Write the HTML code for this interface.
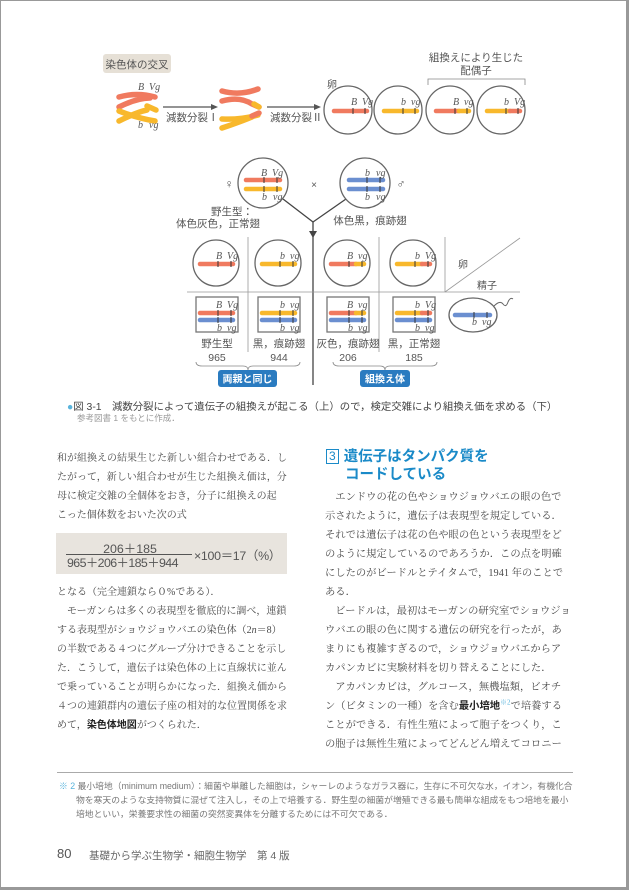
<!DOCTYPE html>
<html><head><meta charset="utf-8"><style>
*{margin:0;padding:0;box-sizing:border-box}
body{width:629px;height:890px;background:#fff;position:relative;overflow:hidden;font-family:"Liberation Sans","Noto Sans CJK JP",sans-serif;color:#555}
.frame{position:absolute;left:0;top:0;width:629px;height:890px;border:1px solid #999;border-right:3px solid #999;border-bottom:3px solid #999}
.t{position:absolute;white-space:nowrap}
.body{font-family:"Liberation Serif","Noto Serif CJK SC",serif;color:#4a4a4a;line-height:19px}
.body div{white-space:nowrap}
b{color:#222;font-family:"Liberation Sans","Noto Sans CJK JP",sans-serif;font-weight:bold}
</style></head><body>
<div class="frame"></div>
<svg width="629" height="400" style="position:absolute;left:0;top:0" font-family="Liberation Sans,Noto Sans CJK JP,sans-serif">
<rect x="103" y="54" width="68" height="19" rx="3" fill="#e6e0d6"/>
<text x="137" y="68" font-size="10.5" fill="#555" text-anchor="middle">染色体の交叉</text>
<g stroke-linecap="round" fill="none" stroke-width="5.5">
<path d="M119 97 Q137 92 155 97" stroke="#f07a5f"/>
<path d="M119 107 Q137 98 150 98" stroke="#f07a5f"/>
<path d="M119 111 Q137 118 155 121" stroke="#f8b82c"/>
<path d="M119 121 Q137 112 147 110" stroke="#f8b82c"/>
<path d="M147 106 L156 110" stroke="#f8b82c"/>
<path d="M222 91 Q240 96 258 89" stroke="#f07a5f"/>
<path d="M222 101 Q240 96 252 104 L259 107" stroke="#f07a5f"/>
<path d="M254 104 L259 107" stroke="#f8b82c"/>
<path d="M222 119 Q240 120 258 115" stroke="#f8b82c"/>
<path d="M222 128 Q240 122 252 117" stroke="#f8b82c"/>
<path d="M252 116 L259 113" stroke="#f07a5f"/>
</g>
<g font-family="Liberation Serif,serif" font-style="italic" font-size="10" fill="#555">
<text x="138" y="90">B</text><text x="149" y="90">Vg</text>
<text x="138" y="128">b</text><text x="149" y="128">vg</text>
</g>
<g stroke="#555" stroke-width="1.3"><line x1="163" y1="107" x2="213" y2="107"/><line x1="267" y1="107" x2="316" y2="107"/></g>
<polygon points="218,107 211,104 211,110" fill="#555"/><polygon points="321,107 314,104 314,110" fill="#555"/>
<text x="166" y="121" font-size="10.5" fill="#555">減数分裂Ⅰ</text>
<text x="270" y="121" font-size="10.5" fill="#555">減数分裂Ⅱ</text>
<text x="327" y="88" font-size="10" fill="#555">卵</text>
<text x="476" y="61" font-size="10.5" fill="#555" text-anchor="middle">組換えにより生じた</text>
<text x="476" y="74" font-size="10.5" fill="#555" text-anchor="middle">配偶子</text>
<path d="M428 85 V79 H525 V85" fill="none" stroke="#888" stroke-width="0.8"/>
<g fill="none" stroke="#666" stroke-width="1.3">
<circle cx="348" cy="110" r="24"/><circle cx="398" cy="110" r="24"/><circle cx="450" cy="110" r="24"/><circle cx="501" cy="110" r="24"/>
</g>
<g stroke-linecap="round" stroke-width="4.5">
<line x1="334" y1="111" x2="367" y2="111" stroke="#f07a5f"/>
<line x1="384" y1="111" x2="417" y2="111" stroke="#f8b82c"/>
<line x1="436" y1="111" x2="459" y2="111" stroke="#f07a5f"/><line x1="459" y1="111" x2="469" y2="111" stroke="#f8b82c"/>
<line x1="487" y1="111" x2="510" y2="111" stroke="#f8b82c"/><line x1="510" y1="111" x2="520" y2="111" stroke="#f07a5f"/>
</g>
<g stroke="#333" stroke-width="1">
<line x1="353" y1="108" x2="353" y2="114"/><line x1="365" y1="108" x2="365" y2="114"/>
<line x1="403" y1="108" x2="403" y2="114"/><line x1="415" y1="108" x2="415" y2="114"/>
<line x1="455" y1="108" x2="455" y2="114"/><line x1="467" y1="108" x2="467" y2="114"/>
<line x1="506" y1="108" x2="506" y2="114"/><line x1="518" y1="108" x2="518" y2="114"/>
</g>
<g font-family="Liberation Serif,serif" font-style="italic" font-size="10" fill="#555">
<text x="351" y="105">B</text><text x="362" y="105">Vg</text>
<text x="401" y="105">b</text><text x="411" y="105">vg</text>
<text x="453" y="105">B</text><text x="464" y="105">vg</text>
<text x="504" y="105">b</text><text x="514" y="105">Vg</text>
</g>
<text x="229" y="188" font-size="12" fill="#555" text-anchor="middle">♀</text>
<text x="314" y="188" font-size="10" fill="#555" text-anchor="middle">×</text>
<text x="401" y="188" font-size="12" fill="#555" text-anchor="middle">♂</text>
<g stroke="#444" stroke-width="1.3" fill="none">
<line x1="283" y1="199" x2="313" y2="222"/><line x1="346" y1="199" x2="313" y2="222"/>
</g>
<g fill="#fff" stroke="#666" stroke-width="1.3"><circle cx="263" cy="183" r="25"/><circle cx="365" cy="183" r="25"/></g>
<g stroke-linecap="round" stroke-width="4.5">
<line x1="246" y1="180" x2="280" y2="180" stroke="#f07a5f"/>
<line x1="246" y1="189" x2="280" y2="189" stroke="#f8b82c"/>
<line x1="349" y1="180" x2="383" y2="180" stroke="#6b8fd0"/>
<line x1="349" y1="189" x2="383" y2="189" stroke="#6b8fd0"/>
</g>
<g stroke="#333" stroke-width="1">
<line x1="264" y1="177" x2="264" y2="183"/><line x1="277" y1="177" x2="277" y2="183"/>
<line x1="264" y1="186" x2="264" y2="192"/><line x1="277" y1="186" x2="277" y2="192"/>
<line x1="367" y1="177" x2="367" y2="183"/><line x1="380" y1="177" x2="380" y2="183"/>
<line x1="367" y1="186" x2="367" y2="192"/><line x1="380" y1="186" x2="380" y2="192"/>
</g>
<g font-family="Liberation Serif,serif" font-style="italic" font-size="10" fill="#555">
<text x="261" y="176">B</text><text x="272" y="176">Vg</text><text x="262" y="200">b</text><text x="273" y="200">vg</text>
<text x="365" y="176">b</text><text x="376" y="176">vg</text><text x="365" y="200">b</text><text x="376" y="200">vg</text>
</g>
<text x="232" y="215" font-size="10.5" fill="#555" text-anchor="middle">野生型：</text>
<text x="218" y="227" font-size="10.5" fill="#555" text-anchor="middle">体色灰色，正常翅</text>
<text x="370" y="224" font-size="10.5" fill="#555" text-anchor="middle">体色黒，痕跡翅</text>
<g stroke="#999" stroke-width="0.8">
<line x1="313" y1="222" x2="313" y2="385" stroke="#444" stroke-width="1.3"/>
<line x1="248" y1="237" x2="248" y2="352"/><line x1="379" y1="237" x2="379" y2="352"/><line x1="445" y1="237" x2="445" y2="292"/>
<line x1="187" y1="292" x2="520" y2="292"/><line x1="445" y1="292" x2="520" y2="238"/>
</g>
<polygon points="313,238 309,231 317,231" fill="#444"/>
<g fill="none" stroke="#666" stroke-width="1.3">
<circle cx="216" cy="263" r="23"/><circle cx="278" cy="263" r="23"/><circle cx="347" cy="263" r="23"/><circle cx="413" cy="263" r="23"/>
</g>
<g stroke-linecap="round" stroke-width="4.5">
<line x1="200" y1="264" x2="233" y2="264" stroke="#f07a5f"/>
<line x1="262" y1="264" x2="295" y2="264" stroke="#f8b82c"/>
<line x1="331" y1="264" x2="356" y2="264" stroke="#f07a5f"/><line x1="356" y1="264" x2="364" y2="264" stroke="#f8b82c"/>
<line x1="397" y1="264" x2="422" y2="264" stroke="#f8b82c"/><line x1="422" y1="264" x2="430" y2="264" stroke="#f07a5f"/>
</g>
<g stroke="#333" stroke-width="1">
<line x1="218" y1="261" x2="218" y2="267"/><line x1="231" y1="261" x2="231" y2="267"/>
<line x1="280" y1="261" x2="280" y2="267"/><line x1="293" y1="261" x2="293" y2="267"/>
<line x1="349" y1="261" x2="349" y2="267"/><line x1="362" y1="261" x2="362" y2="267"/>
<line x1="415" y1="261" x2="415" y2="267"/><line x1="428" y1="261" x2="428" y2="267"/>
</g>
<g font-family="Liberation Serif,serif" font-style="italic" font-size="10" fill="#555">
<text x="216" y="259">B</text><text x="227" y="259">Vg</text>
<text x="280" y="259">b</text><text x="290" y="259">vg</text>
<text x="347" y="259">B</text><text x="358" y="259">vg</text>
<text x="415" y="259">b</text><text x="425" y="259">Vg</text>
</g>
<text x="458" y="268" font-size="10" fill="#555">卵</text>
<text x="477" y="289" font-size="10" fill="#555">精子</text>
<g fill="none" stroke="#777" stroke-width="1.3">
<rect x="196" y="297" width="42" height="35"/><rect x="258" y="297" width="42" height="35"/><rect x="327" y="297" width="42" height="35"/><rect x="393" y="297" width="42" height="35"/>
</g>
<g stroke-linecap="round" stroke-width="4.5">
<line x1="200" y1="313" x2="233" y2="313" stroke="#f07a5f"/><line x1="200" y1="320" x2="233" y2="320" stroke="#6b8fd0"/>
<line x1="262" y1="313" x2="295" y2="313" stroke="#f8b82c"/><line x1="262" y1="320" x2="295" y2="320" stroke="#6b8fd0"/>
<line x1="331" y1="313" x2="356" y2="313" stroke="#f07a5f"/><line x1="356" y1="313" x2="364" y2="313" stroke="#f8b82c"/><line x1="331" y1="320" x2="364" y2="320" stroke="#6b8fd0"/>
<line x1="397" y1="313" x2="422" y2="313" stroke="#f8b82c"/><line x1="422" y1="313" x2="430" y2="313" stroke="#f07a5f"/><line x1="397" y1="320" x2="430" y2="320" stroke="#6b8fd0"/>
<line x1="455" y1="315" x2="490" y2="315" stroke="#6b8fd0"/>
</g>
<g stroke="#333" stroke-width="1">
<line x1="218" y1="310" x2="218" y2="316"/><line x1="231" y1="310" x2="231" y2="316"/><line x1="218" y1="317" x2="218" y2="323"/><line x1="231" y1="317" x2="231" y2="323"/>
<line x1="280" y1="310" x2="280" y2="316"/><line x1="293" y1="310" x2="293" y2="316"/><line x1="280" y1="317" x2="280" y2="323"/><line x1="293" y1="317" x2="293" y2="323"/>
<line x1="349" y1="310" x2="349" y2="316"/><line x1="362" y1="310" x2="362" y2="316"/><line x1="349" y1="317" x2="349" y2="323"/><line x1="362" y1="317" x2="362" y2="323"/>
<line x1="415" y1="310" x2="415" y2="316"/><line x1="428" y1="310" x2="428" y2="316"/><line x1="415" y1="317" x2="415" y2="323"/><line x1="428" y1="317" x2="428" y2="323"/>
<line x1="474" y1="312" x2="474" y2="318"/><line x1="487" y1="312" x2="487" y2="318"/>
</g>
<g font-family="Liberation Serif,serif" font-style="italic" font-size="10" fill="#555">
<text x="216" y="308">B</text><text x="227" y="308">Vg</text><text x="217" y="331">b</text><text x="227" y="331">vg</text>
<text x="280" y="308">b</text><text x="290" y="308">vg</text><text x="280" y="331">b</text><text x="290" y="331">vg</text>
<text x="347" y="308">B</text><text x="358" y="308">vg</text><text x="348" y="331">b</text><text x="358" y="331">vg</text>
<text x="415" y="308">b</text><text x="425" y="308">Vg</text><text x="415" y="331">b</text><text x="425" y="331">vg</text>
<text x="472" y="325">b</text><text x="482" y="325">vg</text>
</g>
<ellipse cx="473" cy="315" rx="24" ry="17" fill="none" stroke="#666" stroke-width="1.3"/>
<path d="M494 306 Q500 300 503 304 Q506 308 508 302 Q510 297 513 299" fill="none" stroke="#666" stroke-width="1"/>
<g font-size="10.5" fill="#555" text-anchor="middle">
<text x="217" y="347">野生型</text><text x="279" y="347">黒，痕跡翅</text><text x="348" y="347">灰色，痕跡翅</text><text x="414" y="347">黒，正常翅</text>
<text x="217" y="361">965</text><text x="279" y="361">944</text><text x="348" y="361">206</text><text x="414" y="361">185</text>
</g>
<path d="M196 362 Q196 366 202 366 H243 Q248 366 248 370 Q248 366 253 366 H294 Q300 366 300 362" fill="none" stroke="#888" stroke-width="0.8"/>
<path d="M333 362 Q333 366 339 366 H380 Q385 366 385 370 Q385 366 390 366 H431 Q437 366 437 362" fill="none" stroke="#888" stroke-width="0.8"/>
<rect x="218" y="370" width="59" height="17" rx="3" fill="#2a7bc0"/>
<text x="247.5" y="382.5" font-size="10" font-weight="bold" fill="#fff" text-anchor="middle">両親と同じ</text>
<rect x="360" y="370" width="50" height="17" rx="3" fill="#2a7bc0"/>
<text x="385" y="382.5" font-size="10" font-weight="bold" fill="#fff" text-anchor="middle">組換え体</text>
</svg>
<div class="t" style="left:67px;top:398px;font-size:10.4px;color:#444"><span style="color:#5ab4dc">●</span>図 3-1　減数分裂によって遺伝子の組換えが起こる（上）ので，検定交雑により組換え価を求める（下）</div>
<div class="t" style="left:77px;top:412px;font-size:8.5px;color:#999">参考図書 1 をもとに作成．</div>

<div class="body t" style="left:57px;top:448.5px;font-size:10px">
<div>和が組換えの結果生じた新しい組合わせである．し</div>
<div>たがって，新しい組合わせが生じた組換え価は，分</div>
<div>母に検定交雑の全個体をおき，分子に組換えの起</div>
<div>こった個体数をおいた次の式</div>
</div>
<div class="t" style="left:56px;top:533px;width:231px;height:41px;background:#e8e4de"></div>
<div class="t" style="left:93px;top:539px;width:74px;text-align:center;font-size:12.4px;color:#555">206＋185</div>
<div class="t" style="left:66px;top:554px;width:126px;border-top:1px solid #555"></div>
<div class="t" style="left:67px;top:553px;font-size:12.4px;color:#555;letter-spacing:-0.6px">965＋206＋185＋944</div>
<div class="t" style="left:194px;top:546px;font-size:12.4px;color:#555;letter-spacing:-0.3px">×100＝17（%）</div>
<div class="body t" style="left:57px;top:582.5px;font-size:10px">
<div>となる（完全連鎖なら０%である）．</div>
<div>　モーガンらは多くの表現型を徹底的に調べ，連鎖</div>
<div>する表現型がショウジョウバエの染色体（2<i>n</i>＝8）</div>
<div>の半数である４つにグループ分けできることを示し</div>
<div>た．こうして，遺伝子は染色体の上に直線状に並ん</div>
<div>で乗っていることが明らかになった．組換え価から</div>
<div>４つの連鎖群内の遺伝子座の相対的な位置関係を求</div>
<div>めて，<b>染色体地図</b>がつくられた．</div>
</div>

<div class="t" style="left:326px;top:449px;font-size:14.5px;font-weight:bold;color:#1a8ac8;line-height:17.5px">
<span style="display:inline-block;border:1px solid #1a8ac8;font-weight:normal;font-size:12px;line-height:13px;padding:0 2px;margin-right:5px;vertical-align:1px">3</span>遺伝子はタンパク質を<br><span style="padding-left:19px">コードしている</span></div>
<div class="body t" style="left:325px;top:487.5px;font-size:10.3px">
<div>　エンドウの花の色やショウジョウバエの眼の色で</div>
<div>示されたように，遺伝子は表現型を規定している．</div>
<div>それでは遺伝子は花の色や眼の色という表現型をど</div>
<div>のように規定しているのであろうか．この点を明確</div>
<div>にしたのがビードルとテイタムで，1941 年のことで</div>
<div>ある．</div>
<div>　ビードルは，最初はモーガンの研究室でショウジョ</div>
<div>ウバエの眼の色に関する遺伝の研究を行ったが，あ</div>
<div>まりにも複雑すぎるので，ショウジョウバエからア</div>
<div>カパンカビに実験材料を切り替えることにした．</div>
<div>　アカパンカビは，グルコース，無機塩類，ビオチ</div>
<div>ン（ビタミンの一種）を含む<b>最小培地</b><sup style="color:#5ab4dc;font-size:7px;line-height:0">※2</sup>で培養する</div>
<div>ことができる．有性生殖によって胞子をつくり，こ</div>
<div>の胞子は無性生殖によってどんどん増えてコロニー</div>
</div>

<div class="t" style="left:57px;top:772px;width:516px;border-top:1px solid #aaa"></div>
<div class="t" style="left:59px;top:779px;font-size:8.8px;color:#777;line-height:14px">
<div><span style="color:#5ab4dc">※ 2</span> 最小培地（minimum medium）：細菌や単離した細胞は，シャーレのようなガラス器に，生存に不可欠な水，イオン，有機化合</div>
<div style="padding-left:17px">物を寒天のような支持物質に混ぜて注入し，その上で培養する．野生型の細菌が増殖できる最も簡単な組成をもつ培地を最小</div>
<div style="padding-left:17px">培地といい，栄養要求性の細菌の突然変異体を分離するためには不可欠である．</div>
</div>
<div class="t" style="left:57px;top:846px;font-size:13px;color:#555">80</div>
<div class="t" style="left:89px;top:848px;font-size:10.5px;color:#666">基礎から学ぶ生物学・細胞生物学　第 4 版</div>
</body></html>
